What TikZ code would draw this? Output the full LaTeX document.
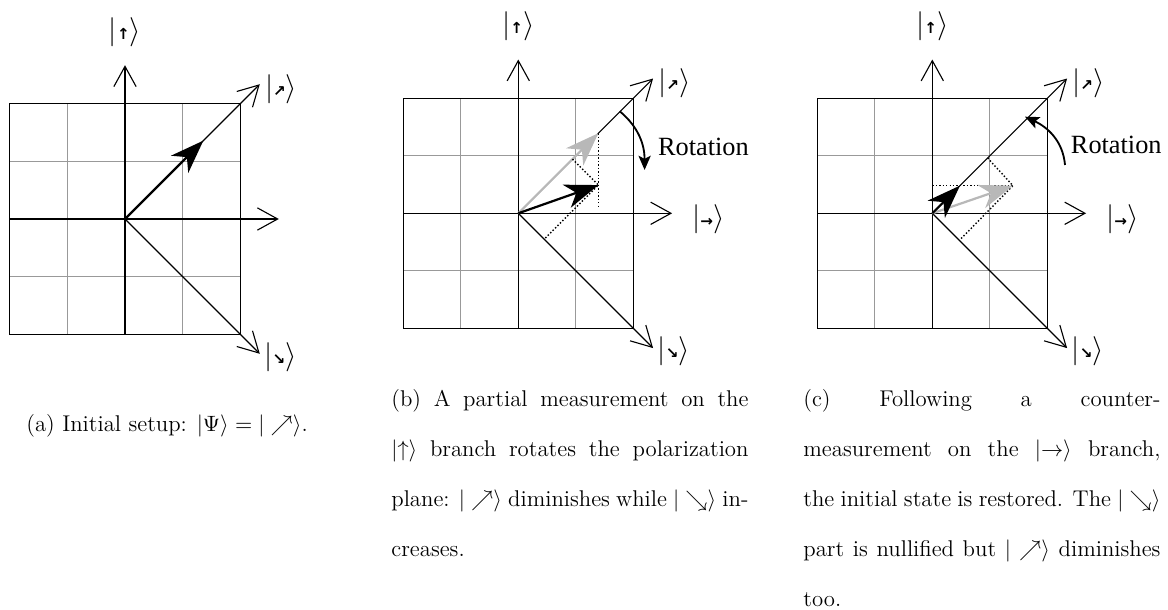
\documentclass[tikz,border=0pt]{standalone}
\usepackage{fontspec}
\usetikzlibrary{arrows.meta}

\newfontfamily\arrowfont{DejaVu Sans}
\newfontfamily\rotfont{Liberation Serif}
\newcommand{\ketarrow}[1]{$|\mbox{\arrowfont\bfseries\fontsize{7.5}{8}\selectfont #1}\rangle$}

\begin{document}
\begin{tikzpicture}[
    gridline/.style={black!40, line width=0.55pt},
    frame/.style={line width=0.55pt},
    axis/.style={line width=0.55pt, -{Straight Barb[length=10pt,width=11pt]}},
    statevec/.style={line width=1.1pt, -{Stealth[length=16.5pt,width=12pt,inset=5pt]}},
    proj/.style={densely dotted, line width=0.7pt},
    rotarrow/.style={line width=0.9pt, -{Stealth[length=7pt,width=6pt,inset=1.5pt]}},
    ket/.style={inner sep=0pt, font=\fontsize{13.5}{15}\selectfont},
    rotlabel/.style={inner sep=0pt, anchor=base west, font={\rotfont\fontsize{13}{16}\selectfont}},
    caption/.style={inner sep=0pt, anchor=base west, font=\fontsize{11.25}{24.7}\selectfont}
]

    \useasboundingbox (0,0) rectangle (20.278,-10.590);

    % --------------------------
    % (a) initial state
    % --------------------------
    \begin{scope}[xshift=2.170cm, yshift=-3.802cm]
        \draw[gridline] (-2,-2) grid (2,2);
        \draw[frame] (-2,-2) rectangle (2,2);
        \coordinate (oA) at (0,0);

        % axes
        \draw[axis] (0,-2) -- (0,2.67);
        \draw[axis] (-2,0) -- (2.67,0);
        \draw[axis] (oA) -- (2.34,2.34);
        \draw[axis] (oA) -- (2.34,-2.34);

        \node[ket] (upA) at (0,3.25) {\ketarrow{↑}};
        \node[ket] (neA) at (2.71,2.26) {\ketarrow{↗}};
        \node[ket] (seA) at (2.70,-2.40) {\ketarrow{↘}};

        % state
        \coordinate (psiA) at (1.36,1.36);
        \draw[statevec] (oA) -- (psiA);
    \end{scope}

    % --------------------------
    % (b) partial measurement
    % --------------------------
    \begin{scope}[xshift=8.998cm, yshift=-3.703cm]
        \draw[gridline] (-2,-2) grid (2,2);
        \draw[frame] (-2,-2) rectangle (2,2);
        \coordinate (oB) at (0,0);

        % axes
        \draw[axis] (0,-2) -- (0,2.67);
        \draw[axis] (-2,0) -- (2.67,0);
        \draw[axis] (oB) -- (2.34,2.34);
        \draw[axis] (oB) -- (2.34,-2.34);

        \node[ket] (upB) at (0,3.25) {\ketarrow{↑}};
        \node[ket] (neB) at (2.71,2.26) {\ketarrow{↗}};
        \node[ket] (seB) at (2.70,-2.40) {\ketarrow{↘}};
        \node[ket] (riB) at (3.30,-0.10) {\ketarrow{→}};

        % old and new state
        \coordinate (oldB) at (1.39,1.39);
        \coordinate (newB) at (1.39,0.49);
        \draw[statevec, black!28] (oB) -- (oldB);
        \draw[proj] (oldB) -- (1.39,0.08);
        \draw[proj] (0.94,0.94) -- (newB) -- (0.45,-0.45);
        \draw[statevec] (oB) -- (newB);

        % rotation
        \coordinate (rsB) at (1.762,1.771);
        \coordinate (reB) at (2.193,0.752);
        \draw[rotarrow] (rsB) to[out=-40, in=90] (reB);
        \node[rotlabel] (rotB) at (2.42,1.01) {Rotation};
    \end{scope}

    % --------------------------
    % (c) counter-measurement
    % --------------------------
    \begin{scope}[xshift=16.186cm, yshift=-3.703cm]
        \draw[gridline] (-2,-2) grid (2,2);
        \draw[frame] (-2,-2) rectangle (2,2);
        \coordinate (oC) at (0,0);

        % axes
        \draw[axis] (0,-2) -- (0,2.67);
        \draw[axis] (-2,0) -- (2.67,0);
        \draw[axis] (oC) -- (2.34,2.34);
        \draw[axis] (oC) -- (2.34,-2.34);

        \node[ket] (upC) at (0,3.25) {\ketarrow{↑}};
        \node[ket] (neC) at (2.71,2.26) {\ketarrow{↗}};
        \node[ket] (seC) at (2.70,-2.40) {\ketarrow{↘}};
        \node[ket] (riC) at (3.30,-0.10) {\ketarrow{→}};

        % old and restored state
        \coordinate (oldC) at (1.40,0.48);
        \coordinate (newC) at (0.48,0.48);
        \draw[proj] (0,0.48) -- (oldC);
        \draw[proj] (0.96,0.96) -- (oldC) -- (0.48,-0.46);
        \draw[statevec, black!28] (oC) -- (oldC);
        \draw[statevec] (oC) -- (newC);

        % rotation
        \coordinate (rsC) at (2.304,0.839);
        \coordinate (reC) at (1.609,1.677);
        \draw[rotarrow] (rsC) to[out=95, in=-25] (reC);
        \node[rotlabel] (rotC) at (2.40,1.03) {Rotation};
    \end{scope}

    % --------------------------
    % captions
    % --------------------------
    \node[caption] (capA) at (0.451,-7.495) {(a) Initial setup: $|\Psi\rangle = |\nearrow\rangle$.};
    \node[caption, text width=6.2cm, align=justify] (capB) at (6.788,-7.057)
        {(b) A partial measurement on the\linebreak
         $|{\uparrow}\rangle$ branch rotates the polarization\linebreak
         plane: $|\nearrow\rangle$ diminishes while $|\searrow\rangle$ in-\linebreak
         creases.};
    \node[caption, text width=6.2cm, align=justify] (capC) at (13.941,-7.057)
        {(c) Following a counter-\linebreak
         measurement on the $|{\rightarrow}\rangle$ branch,\linebreak
         the initial state is restored. The $|\searrow\rangle$\linebreak
         part is nullified but $|\nearrow\rangle$ diminishes\linebreak
         too.};

\end{tikzpicture}
\end{document}
